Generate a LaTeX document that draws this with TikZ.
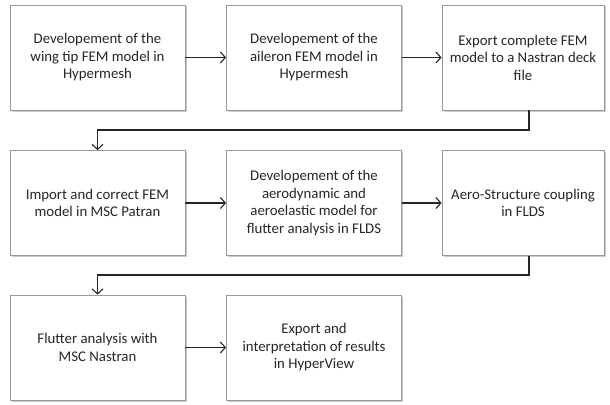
\documentclass[tikz,border=0pt]{standalone}
\usepackage{fontspec}
\setmainfont{Carlito}
\usetikzlibrary{shadows, arrows.meta}

\begin{document}
\begin{tikzpicture}[x=1pt, y=-1pt, line width=0.8pt,
    >={Straight Barb[length=5pt, width=11pt]},
    stepbox/.style={draw=black!40, fill=white, minimum width=175pt, minimum height=105pt,
        align=center, font=\fontsize{14.8}{17.5}\selectfont, text=black!85, inner sep=0pt,
        drop shadow={shadow xshift=1.5pt, shadow yshift=-1.5pt, opacity=0.35, fill=black!60}},
    flow/.style={->, draw=black!85, line width=1.1pt}]
    \useasboundingbox (0,0) rectangle (610,404);

    % first row
    \node[stepbox] (hmtip) at (97.5,57.5) {Developement of the\\wing tip FEM model in\\Hypermesh};
    \node[stepbox] (hmail) at (314,57.5) {Developement of the\\aileron FEM model in\\Hypermesh};
    \node[stepbox, minimum width=162pt] (nasexp) at (523,57.5) {Export complete FEM\\model to a Nastran deck\\file};

    % second row
    \node[stepbox] (patran) at (97.5,203) {Import and correct FEM\\model in MSC Patran};
    \node[stepbox] (aero) at (314,203) {Developement of the\\aerodynamic and\\aeroelastic model for\\flutter analysis in FLDS};
    \node[stepbox, minimum width=162pt] (couple) at (523,203) {Aero-Structure coupling\\in FLDS};

    % third row
    \node[stepbox] (flutter) at (97.5,347.5) {Flutter analysis with\\MSC Nastran};
    \node[stepbox] (hview) at (314,347.5) {Export and\\interpretation of results\\in HyperView};

    % horizontal arrows
    \draw[flow] (hmtip) -- (hmail);
    \draw[flow] (hmail) -- (nasexp);
    \draw[flow] (patran) -- (aero);
    \draw[flow] (aero) -- (couple);
    \draw[flow] (flutter) -- (hview);

    % return arrows
    \coordinate (turnA) at (529,130);
    \coordinate (turnB) at (529,275);
    \draw[flow] (nasexp.south -| turnA) -- (turnA) -| (patran.north);
    \draw[flow] (couple.south -| turnB) -- (turnB) -| (flutter.north);
\end{tikzpicture}
\end{document}
